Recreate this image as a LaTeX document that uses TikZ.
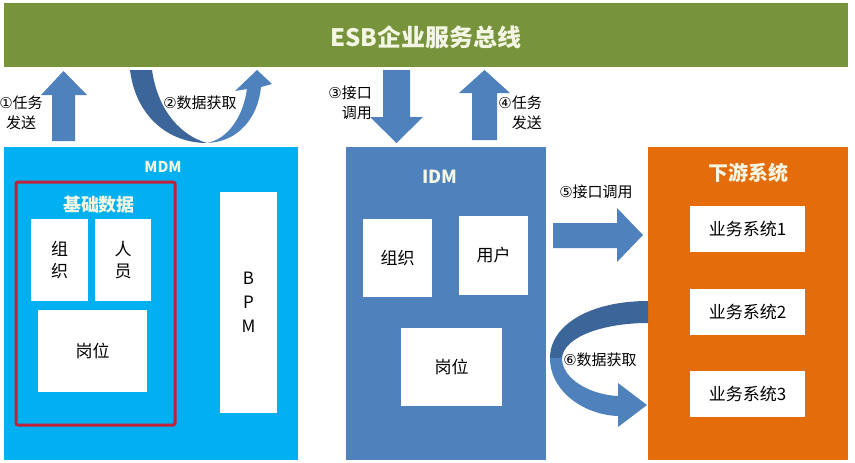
\documentclass[tikz,border=0pt]{standalone}
\usepackage{fontspec}
\setmainfont{Noto Sans CJK SC}
\newfontfamily\symfont{DejaVu Sans}
\newcommand{\circnum}[1]{{\symfont #1}}
\definecolor{esbgreen}{HTML}{77933C}
\definecolor{mdmcyan}{HTML}{00B0F0}
\definecolor{idmblue}{HTML}{4F81BD}
\definecolor{downorange}{HTML}{E46C0A}
\definecolor{arrowblue}{HTML}{4F81BD}
\definecolor{arrowdark}{HTML}{3C659A}
\definecolor{framered}{HTML}{C0223A}
\definecolor{titlewhite}{HTML}{F4F6E4}
\tikzset{
panel/.style={inner sep=0, minimum width=#1, minimum height=313},
whitebox/.style={fill=white, inner sep=0, align=center, font=\fontsize{17}{22}\selectfont},
title/.style={text=titlewhite, inner sep=0, font=\bfseries\fontsize{#1}{#1}\selectfont},
steplabel/.style={inner sep=0, font=\fontsize{15}{20}\selectfont},
}

\begin{document}
\begin{tikzpicture}[x=1pt,y=-1pt]
  \useasboundingbox (0,0) rectangle (855,463);
\node[fill=esbgreen, inner sep=0, minimum width=844, minimum height=64] (esb) at (426,35) {};
\node[title=24] (esbtitle) at (426,37) {ESB企业服务总线};
\node[panel=294, fill=mdmcyan] (mdm) at (151,303.5) {};
\node[panel=200, fill=idmblue] (idm) at (446,303.5) {};
\node[panel=200, fill=downorange] (down) at (748,303.5) {};
\node[title=15] (mdmtitle) at (163,167) {MDM};
\node[title=18] (idmtitle) at (440,177) {IDM};
\node[title=20] (downtitle) at (748,173) {下游系统};
\node[draw=framered, line width=3, rounded corners=2, inner sep=0, minimum width=159, minimum height=243] (basedata) at (95.5,303.5) {};
\node[title=18] (basedatatitle) at (99,205) {基础数据};
\node[whitebox, minimum width=57, minimum height=82] (mdmorg) at (59.5,260) {组\\织};
\node[whitebox, minimum width=56, minimum height=82] (mdmperson) at (123,260) {人\\员};
\node[whitebox, minimum width=109, minimum height=82] (mdmpost) at (92.5,351) {岗位};
\node[whitebox, minimum width=57, minimum height=221, font=\fontsize{17}{24}\selectfont] (bpm) at (248.5,302.5) {B\\P\\M};
\node[whitebox, minimum width=69, minimum height=78] (idmorg) at (397.5,258) {组织};
\node[whitebox, minimum width=69, minimum height=79] (idmuser) at (493.5,255.5) {用户};
\node[whitebox, minimum width=101, minimum height=78] (idmpost) at (451.5,367) {岗位};
\node[whitebox, minimum width=115, minimum height=46] (sys1) at (747.5,229) {业务系统1};
\node[whitebox, minimum width=115, minimum height=46] (sys2) at (747.5,312) {业务系统2};
\node[whitebox, minimum width=115, minimum height=46] (sys3) at (747.5,394) {业务系统3};
\fill[arrowblue] (52,141) -- (52,95) -- (41,95) -- (63.5,71) -- (87,95) -- (75,95) -- (75,141) -- cycle;
\fill[arrowdark] (130,70) .. controls (136,118) and (170,143) .. (207,143) .. controls (182,136) and (158,112) .. (152,70) -- cycle;
\fill[arrowblue] (207,143) .. controls (238,142) and (258,118) .. (261,87) -- (272,84) -- (257,70) -- (235,91) -- (247,89) .. controls (243,117) and (228,139) .. (207,143) -- cycle;
\fill[arrowblue] (383,70) -- (410,70) -- (410,117) -- (423,117) -- (396.5,143) -- (370,117) -- (383,117) -- cycle;
\fill[arrowblue] (472,140) -- (472,93) -- (459,93) -- (484.5,70) -- (510,93) -- (497,93) -- (497,140) -- cycle;
\fill[arrowblue] (553,223) -- (617,223) -- (617,208) -- (643,235) -- (617,262) -- (617,248) -- (553,248) -- cycle;
\fill[arrowdark] (648,301) .. controls (590,301) and (550,325) .. (550,358) -- (562,358) .. controls (564,336) and (605,323) .. (648,323) -- cycle;
\fill[arrowblue] (550,358) .. controls (550,392) and (585,415) .. (618,416) -- (618,427) -- (647,405) -- (618,383) -- (618,396) .. controls (592,395) and (562,380) .. (562,358) -- cycle;
\node[steplabel, align=center] (step1) at (21,113) {\circnum{①}任务\\发送};
\node[steplabel] (step2) at (200,103) {\circnum{②}数据获取};
\node[steplabel, align=right, anchor=east] (step3) at (372,103) {\circnum{③}接口\\调用};
\node[steplabel, align=right, anchor=east] (step4) at (542,113) {\circnum{④}任务\\发送};
\node[steplabel] (step5) at (596,192) {\circnum{⑤}接口调用};
\node[steplabel] (step6) at (600,360) {\circnum{⑥}数据获取};
\end{tikzpicture}
\end{document}
